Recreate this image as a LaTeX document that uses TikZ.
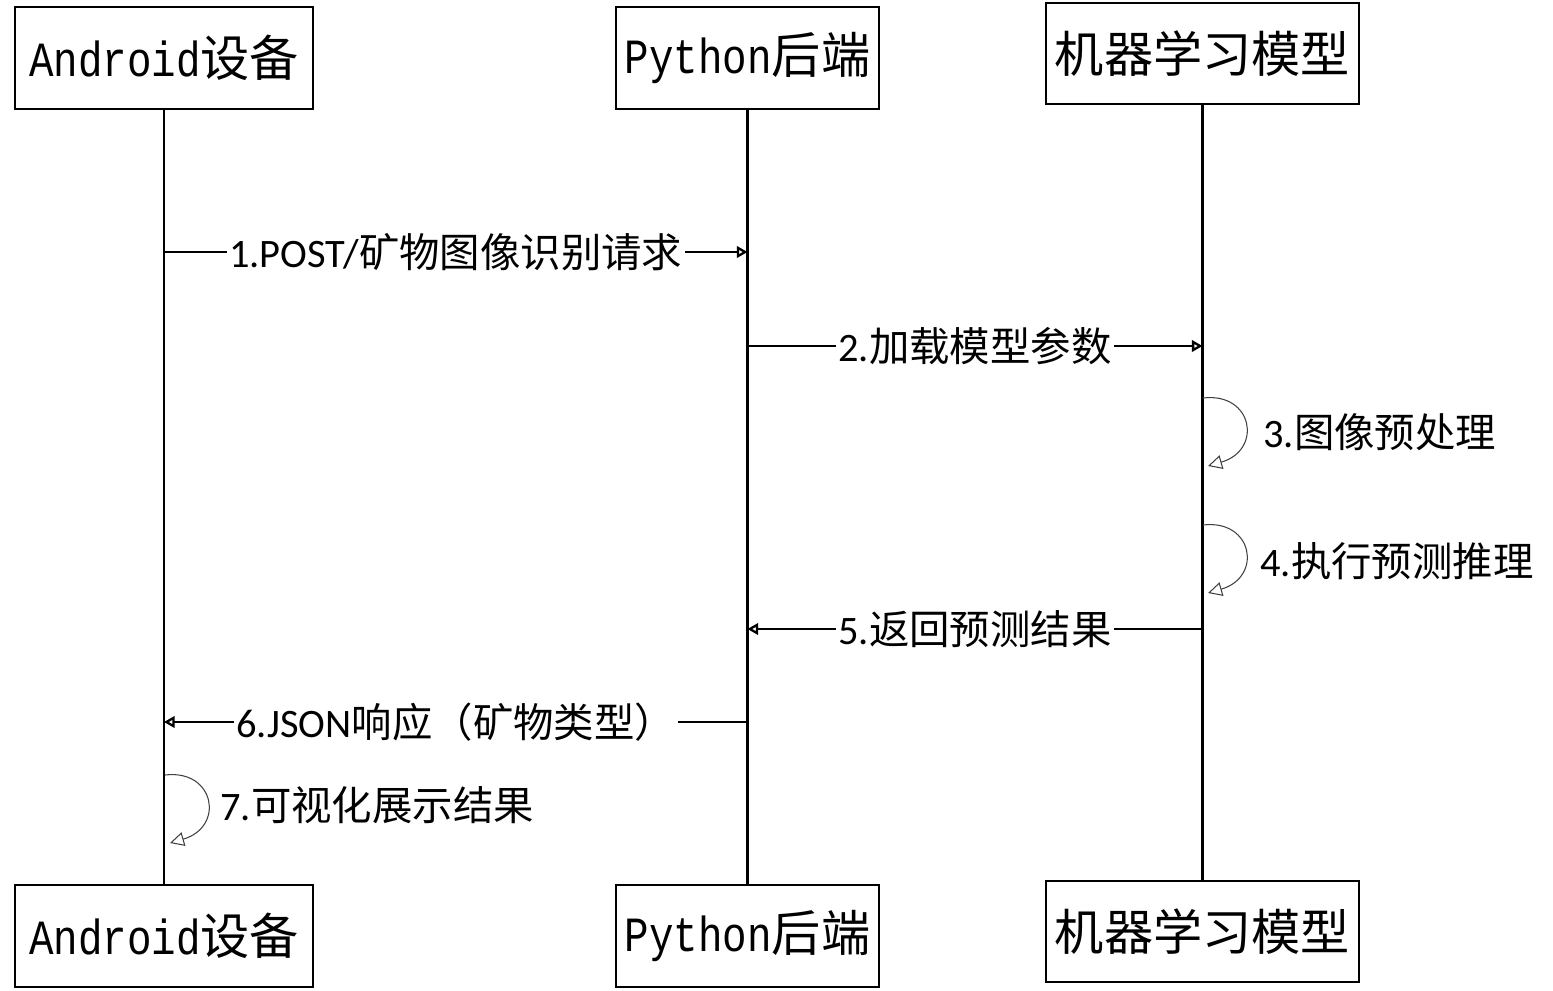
\documentclass[tikz,border=0pt]{standalone}
\usepackage{fontspec}
\newfontfamily\cjk{Noto Sans CJK SC}
\newfontfamily\lat{Carlito}
\newfontfamily\boxlat[FakeStretch=0.83]{Liberation Mono}
\usetikzlibrary{arrows.meta,calc}

\tikzset{
  lifebox/.style={draw,line width=1.3pt,minimum height=58pt,inner sep=0pt,
    font=\fontsize{28}{30}\selectfont},
  lifeline/.style={line width=1.3pt},
  msgline/.style={line width=1.3pt,-{Triangle[open,length=6pt,width=6.5pt]}},
  selfloop/.style={line width=0.6pt,black!75,-{Triangle[open,length=8pt,width=8pt]}},
  msglabel/.style={fill=white,inner sep=1.5pt,font=\fontsize{23}{25}\selectfont},
  looplabel/.style={anchor=west,inner sep=0pt,font=\fontsize{23}{25}\selectfont}
}

\begin{document}
\begin{tikzpicture}[x=0.02cm,y=-0.02cm]
  \useasboundingbox (0,0) rectangle (1553,991);

  % participants, top and bottom
  \node[lifebox,minimum width=170pt] (andT) at (164,58) {{\boxlat Android}{\cjk 设备}};
  \node[lifebox,minimum width=150pt] (pyT) at (747.5,58) {{\boxlat Python}{\cjk 后端}};
  \node[lifebox,minimum width=178.5pt,minimum height=57.3pt] (mlT) at (1202.5,53.5) {\cjk 机器学习模型};
  \node[lifebox,minimum width=170pt] (andB) at (164,936) {{\boxlat Android}{\cjk 设备}};
  \node[lifebox,minimum width=150pt] (pyB) at (747.5,936) {{\boxlat Python}{\cjk 后端}};
  \node[lifebox,minimum width=178.5pt,minimum height=57.3pt] (mlB) at (1202.5,931.5) {\cjk 机器学习模型};

  % lifelines
  \draw[lifeline] (andT) -- (andB);
  \draw[lifeline] (pyT) -- (pyB);
  \draw[lifeline] (mlT) -- (mlB);

  % points on the lifelines
  \coordinate (a1) at (andT.south |- 0,252);
  \coordinate (p1) at (pyT.south |- 0,252);
  \coordinate (p2) at (pyT.south |- 0,346);
  \coordinate (m2) at (mlT.south |- 0,346);
  \coordinate (m3s) at (1203,398);
  \coordinate (m3e) at (1208,466);
  \coordinate (m4s) at (1203,525);
  \coordinate (m4e) at (1208,593);
  \coordinate (m5) at (mlT.south |- 0,629);
  \coordinate (p5) at (pyT.south |- 0,629);
  \coordinate (p6) at (pyT.south |- 0,722);
  \coordinate (a6) at (andT.south |- 0,722);
  \coordinate (a7s) at (165,775);
  \coordinate (a7e) at (170,843);

  % messages
  \draw[msgline] (a1) -- node[msglabel] {{\lat 1.POST/}{\cjk 矿物图像识别请求}} (p1);
  \draw[msgline] (p2) -- node[msglabel] {{\lat 2.}{\cjk 加载模型参数}} (m2);
  \draw[selfloop] (m3s) .. controls (1253,392) and (1263,450) .. (m3e);
  \node[looplabel] (l3) at (1263,432) {{\lat 3.}{\cjk 图像预处理}};
  \draw[selfloop] (m4s) .. controls (1253,519) and (1263,577) .. (m4e);
  \node[looplabel] (l4) at (1260,561) {{\lat 4.}{\cjk 执行预测推理}};
  \draw[msgline] (m5) -- node[msglabel] {{\lat 5.}{\cjk 返回预测结果}} (p5);
  \draw[msgline] (p6) -- node[msglabel] {{\lat 6.JSON}{\cjk 响应（矿物类型）}} (a6);
  \draw[selfloop] (a7s) .. controls (215,769) and (225,827) .. (a7e);
  \node[looplabel] (l7) at (220,805) {{\lat 7.}{\cjk 可视化展示结果}};
\end{tikzpicture}
\end{document}
